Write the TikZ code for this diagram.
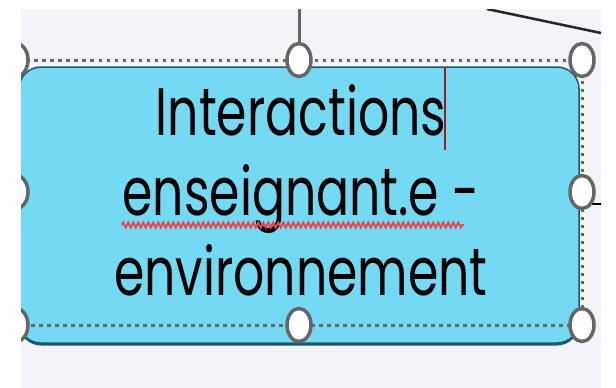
\documentclass[tikz,border=0pt]{standalone}
\usepackage{fontspec}
\newfontfamily\gfont[FakeStretch=0.73]{Poppins}
\usetikzlibrary{shapes.geometric,decorations.pathmorphing}
\definecolor{bgpane}{RGB}{242,244,248}
\definecolor{boxfill}{RGB}{116,218,244}
\definecolor{boxedge}{RGB}{30,88,112}
\definecolor{selgray}{RGB}{102,102,102}
\definecolor{cursorred}{RGB}{160,30,15}
\definecolor{spellred}{RGB}{232,70,80}
\tikzset{
  handle/.style={ellipse, draw=selgray, fill=white, line width=3.5pt, minimum width=24pt, minimum height=33pt, inner sep=0pt},
  selframe/.style={draw=selgray, line width=3pt, dash pattern=on 3.5pt off 4.5pt},
  boxshape/.style={rectangle, rounded corners=22pt, minimum width=560pt, minimum height=276pt, inner sep=0pt},
  link/.style={line width=3pt},
}
\begin{document}
\begin{tikzpicture}[x=1pt,y=-1pt]
\useasboundingbox (0,0) rectangle (616,388);
\fill[white] (0,0) rectangle (616,388);
\fill[bgpane] (21,9) rectangle (601,388);
\begin{scope}
\clip (21,9) rectangle (601,388);
% shadow and box
\node[boxshape, fill=boxedge] (shadow) at (299,207.5) {};
\node[boxshape, fill=boxfill, draw=boxedge, line width=1.5pt] (box) at (299,205) {};
% text
\node[anchor=base, inner sep=0pt, text=black] (txt) at (301,135)
  {\gfont\fontsize{67}{80}\selectfont\begin{tabular}[t]{@{}c@{}}Interactions\\enseignant.e -\\environnement\end{tabular}};
% spelling underline
\coordinate (u1) at (122,225);
\coordinate (u2) at (464,225);
\draw[spellred, line width=2pt, decorate, decoration={zigzag, segment length=5pt, amplitude=2.5pt}] (u1) -- (u2);
% cursor
\coordinate (c1) at (445,67);
\coordinate (c2) at (445,150);
\draw[cursorred, line width=2pt] (c1) -- (c2);
% selection frame
\coordinate (f1) at (16,60);
\coordinate (f2) at (582,325);
\draw[selframe] (f1) rectangle (f2);
% external connectors
\coordinate (topend) at (299,0);
\coordinate (d1) at (487,9);
\coordinate (d2) at (601,33);
\coordinate (r1) at (590,204);
\coordinate (r2) at (610,204);
\draw[black!85, line width=2.5pt] (d1) -- (d2);
\draw[black, line width=2.5pt] (r1) -- (r2);
% handles
\node[handle] (htl) at (16,60) {};
\node[handle] (htm) at (299,60) {};
\node[handle] (htr) at (582,60) {};
\node[handle] (hml) at (16,192) {};
\node[handle] (hmr) at (582,192) {};
\node[handle] (hbl) at (16,325) {};
\node[handle] (hbm) at (299,325) {};
\node[handle] (hbr) at (582,325) {};
\draw[selgray, link] (topend) -- (htm.north);
\end{scope}
\end{tikzpicture}
\end{document}
